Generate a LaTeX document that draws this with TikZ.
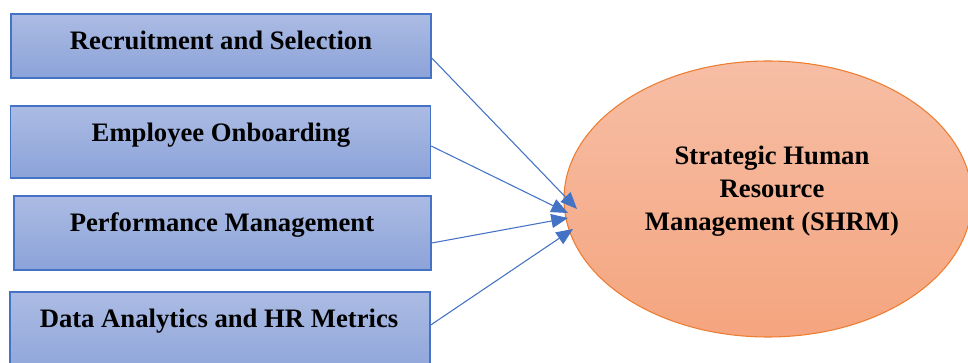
\documentclass[tikz,border=0pt]{standalone}
\usepackage{fontspec}
\setmainfont{Liberation Serif}
\usetikzlibrary{arrows.meta,shapes.geometric}
\definecolor{boxline}{RGB}{68,114,196}
\definecolor{boxtop}{RGB}{171,187,227}
\definecolor{boxbot}{RGB}{140,163,217}
\definecolor{ovline}{RGB}{237,125,49}
\definecolor{ovtop}{RGB}{246,190,165}
\definecolor{ovbot}{RGB}{245,165,127}
\tikzset{
  stagebox/.style={draw=boxline, line width=1.1pt, top color=boxtop, bottom color=boxbot,
    minimum width=420*0.75pt, inner sep=0pt},
  lbl/.style={font=\fontsize{20}{24.75}\selectfont\bfseries, inner sep=0pt, anchor=base},
  link/.style={draw=boxline, line width=0.8pt, -{Triangle[length=12.5pt,width=10.5pt]}},
}
\begin{document}
\begin{tikzpicture}[x=0.75pt, y=-0.75pt]
  \clip (0,0) rectangle (968,363);
  \useasboundingbox (0,0) rectangle (968,363);
  % activity boxes
  \node[stagebox, minimum height=64*0.75pt] (b1) at (221,46) {};
  \node[stagebox, minimum height=72*0.75pt] (b2) at (220.5,142) {};
  \node[stagebox, minimum height=74*0.75pt, minimum width=417*0.75pt] (b3) at (222.5,233) {};
  \node[stagebox, minimum height=90*0.75pt] (b4) at (220,337) {};
  \node[lbl] (l1) at (221,50) {Recruitment and Selection};
  \node[lbl] (l2) at (221,142) {Employee Onboarding};
  \node[lbl] (l3) at (222,232) {Performance Management};
  \node[lbl] (l4) at (219,328) {Data Analytics and HR Metrics};
  % central ellipse
  \node[ellipse, draw=ovline, line width=0.8pt, top color=ovtop, bottom color=ovbot,
        minimum width=408*0.75pt, minimum height=276*0.75pt, inner sep=0pt] (shrm) at (768,199) {};
  \node[font=\fontsize{20}{24.75}\selectfont\bfseries, align=center, inner sep=0pt] (st) at (772,191)
    {Strategic Human\\Resource\\Management (SHRM)};
  % arrow tips on the ellipse rim
  \coordinate (t1) at (577,209);
  \coordinate (t2) at (568,213);
  \coordinate (t3) at (568,218);
  \coordinate (t4) at (573,229);
  \draw[link] ([yshift=-9pt]b1.east) -- (t1);
  \draw[link] ([yshift=-3pt]b2.east) -- (t2);
  \draw[link] ([yshift=-7.5pt]b3.east) -- (t3);
  \draw[link] ([yshift=9pt]b4.east) -- (t4);
\end{tikzpicture}
\end{document}
